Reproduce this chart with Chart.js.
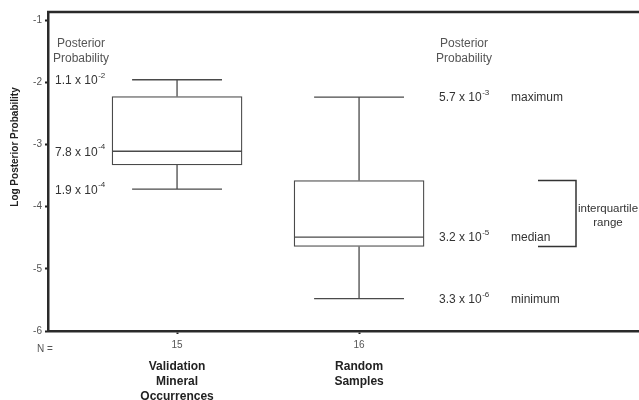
<!DOCTYPE html>
<html>
<head>
<meta charset="utf-8">
<script src="https://cdn.jsdelivr.net/npm/chart.js@4"></script>
<style>
  html, body { margin: 0; padding: 0; background: #fff; }
  #wrap { width: 639px; height: 400px; position: relative; }
</style>
</head>
<body>
<div id="wrap"><canvas id="chart"></canvas></div>
<script>
// box plot data (log10 posterior probability)
const groupLines = [['Validation', 'Mineral', 'Occurrences'], ['Random', 'Samples']];
const positions = [1, 2];
const counts = [15, 16];
const maxVals = [-1.96, -2.24];
const q3Vals = [-2.23, -3.58];
const medVals = [-3.11, -4.49];
const q1Vals = [-3.33, -4.64];
const minVals = [-3.72, -5.48];
const yTicks = [-6, -5, -4, -3, -2, -1];

// printed probability labels: [mantissa, exponent]
const leftLabels = [['1.1', '-2'], ['7.8', '-4'], ['1.9', '-4']];
const rightLabels = [['5.7', '-3'], ['3.2', '-5'], ['3.3', '-6']];
const rightWords = ['maximum', 'median', 'minimum'];

const FONT = "'Liberation Sans', Arial, Helvetica, sans-serif";
const capHalf = 0.247;
const boxHalf = 0.357;

// whisker, cap and median segments, separated by gaps
const whiskers = [];
positions.forEach((x, i) => {
    whiskers.push({x: x, y: maxVals[i]}, {x: x, y: q3Vals[i]}, {x: x, y: null});
    whiskers.push({x: x, y: q1Vals[i]}, {x: x, y: minVals[i]}, {x: x, y: null});
    whiskers.push({x: x - capHalf, y: maxVals[i]}, {x: x + capHalf, y: maxVals[i]}, {x: x, y: null});
    whiskers.push({x: x - capHalf, y: minVals[i]}, {x: x + capHalf, y: minVals[i]}, {x: x, y: null});
    whiskers.push({x: x - boxHalf, y: medVals[i]}, {x: x + boxHalf, y: medVals[i]}, {x: x, y: null});
});

function drawSci(ctx, mant, exp, x, y) {
    ctx.font = '12px ' + FONT;
    ctx.textAlign = 'left';
    ctx.textBaseline = 'middle';
    const base = mant + ' x 10';
    ctx.fillText(base, x, y);
    const w = ctx.measureText(base).width;
    ctx.font = '8px ' + FONT;
    ctx.fillText(exp, x + w + 0.5, y - 5);
}

const annotations = {
    id: 'annotations',
    afterDraw(chart) {
        const ctx = chart.ctx;
        const area = chart.chartArea;
        const ys = chart.scales.y;
        const xs = chart.scales.x;
        ctx.save();

        // top frame line
        ctx.strokeStyle = '#2a2a2a';
        ctx.lineWidth = 2.5;
        ctx.beginPath();
        ctx.moveTo(area.left - 1, area.top);
        ctx.lineTo(area.right, area.top);
        ctx.stroke();

        // y axis title
        ctx.save();
        ctx.translate(15, 147);
        ctx.rotate(-Math.PI / 2);
        ctx.fillStyle = '#222';
        ctx.font = 'bold 10px ' + FONT;
        ctx.textAlign = 'center';
        ctx.textBaseline = 'middle';
        ctx.fillText('Log Posterior Probability', 0, 0);
        ctx.restore();

        // headers
        ctx.fillStyle = '#555';
        ctx.font = '12px ' + FONT;
        ctx.textAlign = 'center';
        ctx.textBaseline = 'middle';
        ctx.fillText('Posterior', 81, 44);
        ctx.fillText('Probability', 81, 59);
        ctx.fillText('Posterior', 464, 44);
        ctx.fillText('Probability', 464, 59);

        // value labels
        ctx.fillStyle = '#333';
        const leftVals = [maxVals[0], medVals[0], minVals[0]];
        leftLabels.forEach((l, i) => drawSci(ctx, l[0], l[1], 55, ys.getPixelForValue(leftVals[i]) + 1));
        const rightVals = [maxVals[1], medVals[1], minVals[1]];
        rightLabels.forEach((l, i) => {
            const py = ys.getPixelForValue(rightVals[i]) + 1;
            drawSci(ctx, l[0], l[1], 439, py);
            ctx.font = '12px ' + FONT;
            ctx.textAlign = 'left';
            ctx.fillText(rightWords[i], 511, py);
        });

        // interquartile bracket
        const yTop = ys.getPixelForValue(q3Vals[1]);
        const yBot = ys.getPixelForValue(q1Vals[1]);
        ctx.strokeStyle = '#333';
        ctx.lineWidth = 1.5;
        ctx.beginPath();
        ctx.moveTo(538, yTop);
        ctx.lineTo(576, yTop);
        ctx.lineTo(576, yBot);
        ctx.lineTo(538, yBot);
        ctx.stroke();
        ctx.font = '11.5px ' + FONT;
        ctx.textAlign = 'center';
        ctx.fillText('interquartile', 608, (yTop + yBot) / 2 - 5);
        ctx.fillText('range', 608, (yTop + yBot) / 2 + 9);

        // N = and group names
        ctx.fillStyle = '#555';
        ctx.font = '10px ' + FONT;
        ctx.textAlign = 'left';
        ctx.fillText('N =', 37, 349);
        ctx.fillStyle = '#222';
        ctx.font = 'bold 12px ' + FONT;
        ctx.textAlign = 'center';
        groupLines.forEach((lines, i) => {
            const px = xs.getPixelForValue(positions[i]);
            lines.forEach((t, j) => ctx.fillText(t, px, 367 + j * 14.8));
        });
        ctx.restore();
    }
};

new Chart(document.getElementById('chart'), {
    type: 'bar',
    data: {
        datasets: [{
            type: 'line',
            data: whiskers,
            borderColor: '#4a4a4a',
            borderWidth: 1.3,
            pointRadius: 0,
            spanGaps: false,
            tension: 0
        }, {
            type: 'bar',
            data: positions.map((x, i) => ({x: x, y: [q1Vals[i], q3Vals[i]]})),
            backgroundColor: '#fff',
            borderColor: '#4a4a4a',
            borderWidth: 1.3,
            borderSkipped: false,
            barThickness: 130
        }]
    },
    options: {
        responsive: true,
        maintainAspectRatio: false,
        animation: false,
        layout: { padding: { top: 12, left: 0, right: 0, bottom: 0 } },
        plugins: { legend: { display: false }, tooltip: { enabled: false } },
        scales: {
            x: {
                type: 'linear',
                offset: false,
                min: 0.291,
                max: 3.538,
                afterFit(scale) { scale.height = 69; },
                afterBuildTicks(scale) { scale.ticks = positions.map(v => ({value: v})); },
                ticks: {
                    callback: (v, idx) => String(counts[idx]),
                    color: '#555',
                    font: { family: FONT, size: 10 },
                    padding: 5,
                    maxRotation: 0
                },
                grid: { offset: false, drawOnChartArea: false, drawTicks: true, tickLength: 3, tickWidth: 2, color: '#222' },
                border: { display: true, width: 2.5, color: '#2a2a2a' }
            },
            y: {
                type: 'linear',
                min: -6,
                max: -0.871,
                afterFit(scale) { scale.width = 48; },
                afterBuildTicks(scale) { scale.ticks = yTicks.map(v => ({value: v})); },
                ticks: {
                    callback: v => String(v),
                    color: '#555',
                    font: { family: FONT, size: 10 },
                    padding: 3
                },
                grid: { drawOnChartArea: false, drawTicks: true, tickLength: 3, tickWidth: 2, color: '#222' },
                border: { display: true, width: 2.5, color: '#2a2a2a' }
            }
        }
    },
    plugins: [annotations]
});
</script>
</body>
</html>
